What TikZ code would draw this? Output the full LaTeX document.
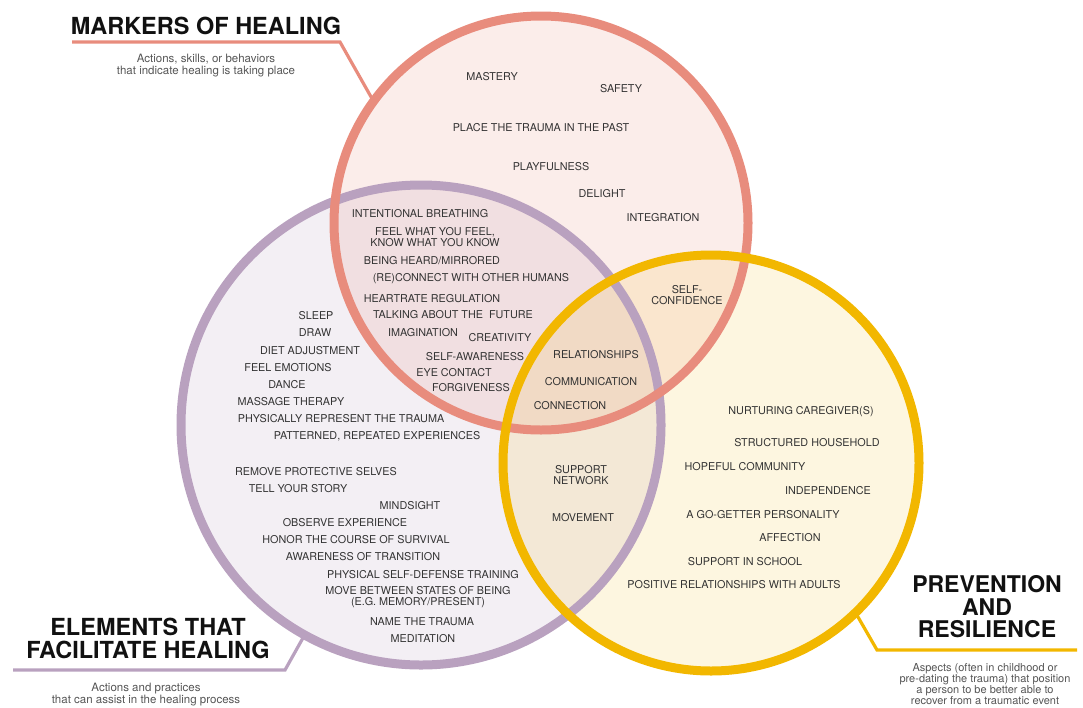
\documentclass[tikz,border=0pt]{standalone}
\usepackage{fontspec}
\setmainfont{TeX Gyre Heros}
\definecolor{pinkC}{HTML}{E88C7D}
\definecolor{purpleC}{HTML}{B9A1BF}
\definecolor{yellowC}{HTML}{F2B700}
\definecolor{txtC}{HTML}{333333}
\definecolor{subC}{HTML}{555555}
\definecolor{ttlC}{HTML}{111111}
\begin{document}
\begin{tikzpicture}[x=1pt,y=-1pt,
  lbl/.style={font=\fontsize{10.8}{11}\selectfont, text=txtC, align=center, inner sep=0pt},
  ttl/.style={font=\fontsize{23.5}{23}\selectfont\bfseries, text=ttlC, align=center, inner sep=0pt},
  sub/.style={font=\fontsize{11.5}{12}\selectfont, text=subC, align=center, inner sep=0pt},
  ringfill/.style={circle, inner sep=0pt, outer sep=0pt, draw=none, fill opacity=#1},
  ring/.style={circle, inner sep=0pt, outer sep=0pt, line width=9pt},
  callout/.style={line width=3.2pt}
]
\useasboundingbox (0,0) rectangle (1083,707);
% fills
\node[ringfill=0.17, fill=purpleC, minimum size=480pt] (purpleF) at (421,425) {};
\node[ringfill=0.16, fill=pinkC, minimum size=414pt] (pinkF) at (541,223) {};
\node[ringfill=0.12, fill=yellowC, minimum size=416pt] (yellowF) at (711,463) {};
% callout lines
\coordinate (pkA) at (72,42);
\coordinate (pkB) at (340,42);
\draw[callout, pinkC] (pkA) -- (pkB) -- (pinkF.144);
\coordinate (puA) at (13,670);
\coordinate (puB) at (285,670);
\draw[callout, purpleC] (puA) -- (puB) -- (purpleF.-119.5);
\coordinate (yeA) at (1077,650);
\coordinate (yeB) at (877,650);
\draw[callout, yellowC] (yeA) -- (yeB) -- (yellowF.-46.5);
% strokes
\node[ring, draw=purpleC, minimum size=480pt] (purple) at (purpleF) {};
\node[ring, draw=pinkC, minimum size=414pt] (pink) at (pinkF) {};
\node[ring, draw=yellowC, minimum size=416pt] (yellow) at (yellowF) {};
% titles
\node[ttl] (t1) at (206,26) {MARKERS OF HEALING};
\node[sub] (s1) at (206,66) {Actions, skills, or behaviors\\that indicate healing is taking place};
\node[ttl] (t2) at (148,638.5) {ELEMENTS THAT\\FACILITATE HEALING};
\node[sub] (s2) at (146,695) {Actions and practices\\that can assist in the healing process};
\node[ttl, font=\fontsize{23}{22.5}\selectfont\bfseries] (t3) at (987,607) {PREVENTION\\AND\\RESILIENCE};
\node[sub, font=\fontsize{11}{10.8}\selectfont] (s3) at (985,684) {Aspects (often in childhood or\\pre-dating the trauma) that position\\a person to be better able to\\recover from a traumatic event};
% pink only
\node[lbl] (m1) at (492,77) {MASTERY};
\node[lbl] (m2) at (621,89) {SAFETY};
\node[lbl] (m3) at (541,128) {PLACE THE TRAUMA IN THE PAST};
\node[lbl] (m4) at (551,167) {PLAYFULNESS};
\node[lbl] (m5) at (602,194) {DELIGHT};
\node[lbl] (m6) at (663,218) {INTEGRATION};
% pink & purple
\node[lbl] (pp1) at (420,214) {INTENTIONAL BREATHING};
\node[lbl] (pp2) at (435,237) {FEEL WHAT YOU FEEL,\\KNOW WHAT YOU KNOW};
\node[lbl] (pp3) at (432,261) {BEING HEARD/MIRRORED};
\node[lbl] (pp4) at (471,279) {(RE)CONNECT WITH OTHER HUMANS};
\node[lbl] (pp5) at (432,299) {HEARTRATE REGULATION};
\node[lbl] (pp6) at (453,315) {TALKING ABOUT THE\ \ FUTURE};
\node[lbl] (pp7) at (423,333) {IMAGINATION};
\node[lbl] (pp8) at (500,338) {CREATIVITY};
\node[lbl] (pp9) at (475,357) {SELF-AWARENESS};
\node[lbl] (pp10) at (454,373) {EYE CONTACT};
\node[lbl] (pp11) at (471,388) {FORGIVENESS};
% purple only
\node[lbl] (e1) at (316,316) {SLEEP};
\node[lbl] (e2) at (315,333) {DRAW};
\node[lbl] (e3) at (310,351) {DIET ADJUSTMENT};
\node[lbl] (e4) at (288,368) {FEEL EMOTIONS};
\node[lbl] (e5) at (287,385) {DANCE};
\node[lbl] (e6) at (291,402) {MASSAGE THERAPY};
\node[lbl] (e7) at (341,419) {PHYSICALLY REPRESENT THE TRAUMA};
\node[lbl] (e8) at (377,436) {PATTERNED, REPEATED EXPERIENCES};
\node[lbl] (e9) at (316,472) {REMOVE PROTECTIVE SELVES};
\node[lbl] (e10) at (298,489) {TELL YOUR STORY};
\node[lbl] (e11) at (410,506) {MINDSIGHT};
\node[lbl] (e12) at (345,523) {OBSERVE EXPERIENCE};
\node[lbl] (e13) at (356,540) {HONOR THE COURSE OF SURVIVAL};
\node[lbl] (e14) at (363,557) {AWARENESS OF TRANSITION};
\node[lbl] (e15) at (423,575) {PHYSICAL SELF-DEFENSE TRAINING};
\node[lbl] (e16) at (418,597.5) {MOVE BETWEEN STATES OF BEING\\(E.G. MEMORY/PRESENT)};
\node[lbl] (e17) at (422,622) {NAME THE TRAUMA};
\node[lbl] (e18) at (423,639) {MEDITATION};
% all three
\node[lbl] (a1) at (596,355) {RELATIONSHIPS};
\node[lbl] (a2) at (591,382) {COMMUNICATION};
\node[lbl] (a3) at (570,406) {CONNECTION};
% pink & yellow
\node[lbl] (py1) at (687,295) {SELF-\\CONFIDENCE};
% purple & yellow
\node[lbl] (uy1) at (581,475) {SUPPORT\\NETWORK};
\node[lbl] (uy2) at (583,518) {MOVEMENT};
% yellow only
\node[lbl] (y1) at (801,412) {NURTURING CAREGIVER(S)};
\node[lbl] (y2) at (807,443) {STRUCTURED HOUSEHOLD};
\node[lbl] (y3) at (745,467) {HOPEFUL COMMUNITY};
\node[lbl] (y4) at (828,491) {INDEPENDENCE};
\node[lbl] (y5) at (763,515) {A GO-GETTER PERSONALITY};
\node[lbl] (y6) at (790,538) {AFFECTION};
\node[lbl] (y7) at (745,562) {SUPPORT IN SCHOOL};
\node[lbl] (y8) at (734,585) {POSITIVE RELATIONSHIPS WITH ADULTS};
\end{tikzpicture}
\end{document}
